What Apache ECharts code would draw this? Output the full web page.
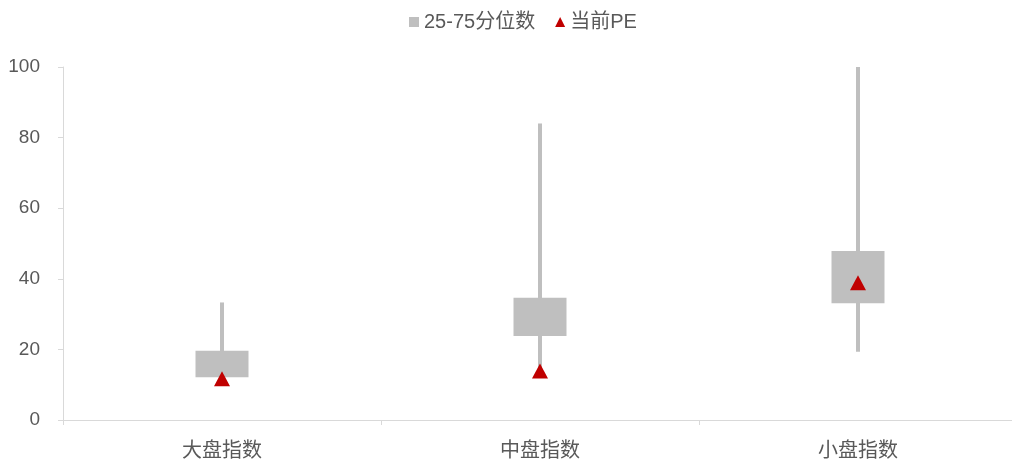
<!DOCTYPE html>
<html>
<head>
<meta charset="utf-8">
<script src="https://cdn.jsdelivr.net/npm/echarts@6/dist/echarts.min.js"></script>
<style>
  html, body { margin: 0; padding: 0; background: #fff; }
  #chart { width: 1012px; height: 464px; }
</style>
</head>
<body>
<div id="chart"></div>
<script>
// categories and values
const categories = ['大盘指数', '中盘指数', '小盘指数'];
const lowVals = [12.0, 13.3, 19.3];    // whisker bottom
const q1Vals = [12.1, 23.8, 33.1];     // 25% quantile
const q3Vals = [19.6, 34.6, 47.9];     // 75% quantile
const highVals = [33.3, 84.0, 100];    // whisker top
const currentPE = [11.7, 13.9, 38.9];
const yTicks = { min: 0, max: 100, interval: 20 };

const boxData = categories.map((c, i) => [i, lowVals[i], q1Vals[i], q3Vals[i], highVals[i]]);

const chart = echarts.init(document.getElementById('chart'));
const textColor = '#595959';
const font = 'Liberation Sans, Arial, Noto Sans CJK SC, sans-serif';

chart.setOption({
  animation: false,
  textStyle: { fontFamily: font },
  legend: {
    top: 7,
    left: 404,
    itemWidth: 10,
    itemHeight: 10,
    itemGap: 20,
    textStyle: { color: textColor, fontSize: 20, fontFamily: font },
    data: [
      { name: '25-75分位数', icon: 'rect', itemStyle: { color: '#bfbfbf' } },
      { name: '当前PE', icon: 'triangle', itemStyle: { color: '#c00000' } }
    ]
  },
  grid: { left: 63, right: -5, top: 67, bottom: 44, outerBoundsMode: 'none' },
  xAxis: {
    type: 'category',
    data: categories,
    axisLine: { lineStyle: { color: '#d9d9d9', width: 1 } },
    axisTick: { show: true, length: 5, lineStyle: { color: '#d9d9d9' } },
    axisLabel: { color: textColor, fontSize: 20, margin: 21, fontFamily: font }
  },
  yAxis: {
    type: 'value',
    min: yTicks.min,
    max: yTicks.max,
    interval: yTicks.interval,
    splitLine: { show: false },
    axisLine: { show: true, lineStyle: { color: '#d9d9d9', width: 1 } },
    axisTick: { show: true, length: 5, lineStyle: { color: '#d9d9d9' } },
    axisLabel: { color: textColor, fontSize: 19, margin: 23, fontFamily: font }
  },
  series: [
    {
      name: '25-75分位数',
      type: 'custom',
      itemStyle: { color: '#bfbfbf' },
      encode: { x: 0, y: [1, 2, 3, 4] },
      renderItem: function (params, api) {
        const x = api.value(0);
        const pLow = api.coord([x, api.value(1)]);
        const pQ1 = api.coord([x, api.value(2)]);
        const pQ3 = api.coord([x, api.value(3)]);
        const pHigh = api.coord([x, api.value(4)]);
        const boxW = 53, lineW = 4;
        return {
          type: 'group',
          children: [
            {
              type: 'rect',
              shape: { x: pHigh[0] - lineW / 2, y: pHigh[1], width: lineW, height: pLow[1] - pHigh[1] },
              style: { fill: '#bfbfbf' }
            },
            {
              type: 'rect',
              shape: { x: pQ3[0] - boxW / 2, y: pQ3[1], width: boxW, height: pQ1[1] - pQ3[1] },
              style: { fill: '#bfbfbf' }
            }
          ]
        };
      },
      data: boxData,
      z: 2
    },
    {
      name: '当前PE',
      type: 'scatter',
      symbol: 'triangle',
      symbolSize: [16, 15],
      itemStyle: { color: '#c00000', opacity: 1 },
      data: currentPE,
      z: 3
    }
  ]
});
</script>
</body>
</html>
